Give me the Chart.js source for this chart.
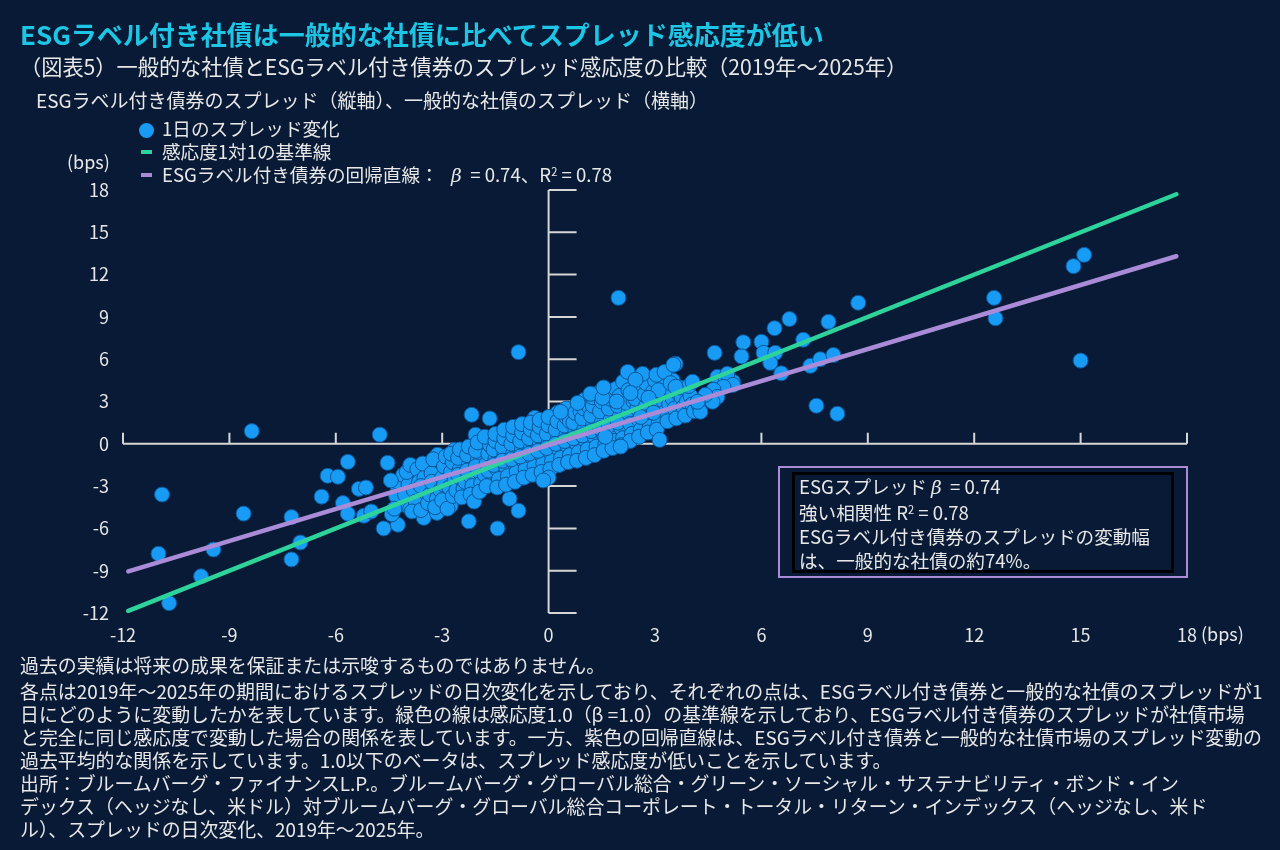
<!DOCTYPE html>
<html lang="ja">
<head>
<meta charset="utf-8">
<script src="https://cdn.jsdelivr.net/npm/chart.js@4.4.1/dist/chart.umd.min.js"></script>
<style>
html,body{margin:0;padding:0;width:1280px;height:850px;overflow:hidden;background:#081a35;}
body{position:relative;font-family:"Noto Sans CJK JP","Noto Sans",sans-serif;color:#e8e8e8;}
#c{position:absolute;left:0;top:0;}
.t{position:absolute;white-space:nowrap;line-height:1;}
#title{left:20px;top:21px;font-size:26px;font-weight:bold;color:#1ec6e6;}
#sub{left:20px;top:55px;font-size:21.2px;}
#axdesc{left:36px;top:90px;font-size:19px;}
#legend{position:absolute;left:0;top:0;}
.lg{position:absolute;white-space:nowrap;font-size:18.6px;line-height:1;left:162px;}
.dot{position:absolute;left:139px;width:15px;height:15px;border-radius:50%;background:#179bf5;}
.dash{position:absolute;left:141px;width:11px;height:4px;}
#ybps{left:67px;top:152px;font-size:18px;}
#xbps{left:1201px;top:624px;font-size:18px;}
#outer{position:absolute;left:778px;top:466px;width:410px;height:112px;border:2px solid #a98bd8;box-sizing:border-box;}
#inner{position:absolute;left:792px;top:472px;width:382px;height:101px;border:3px solid #000;box-sizing:border-box;}
#note{position:absolute;left:799px;top:474px;font-size:18.6px;line-height:24px;white-space:nowrap;}
#foot{position:absolute;left:20px;top:653px;font-size:18.9px;line-height:23px;white-space:nowrap;}
#foot .first{display:block;margin-bottom:3px;}
i{font-family:"DejaVu Serif",serif;}
sup{font-size:0.6em;vertical-align:0.55em;line-height:0;}
</style>
</head>
<body>
<canvas id="c" width="1280" height="850"></canvas>
<div class="t" id="title">ESGラベル付き社債は一般的な社債に比べてスプレッド感応度が低い</div>
<div class="t" id="sub">（図表5）一般的な社債とESGラベル付き債券のスプレッド感応度の比較（2019年～2025年）</div>
<div class="t" id="axdesc">ESGラベル付き債券のスプレッド（縦軸）、一般的な社債のスプレッド（横軸）</div>
<div id="legend">
  <div class="dot" style="top:123px"></div>
  <div class="lg" style="top:119px">1日のスプレッド変化</div>
  <div class="dash" style="top:150px;background:#2ed39c"></div>
  <div class="lg" style="top:142px">感応度1対1の基準線</div>
  <div class="dash" style="top:173px;background:#a98bd8"></div>
  <div class="lg" style="top:165px">ESGラベル付き債券の回帰直線：&nbsp;&nbsp;&nbsp;<i>β</i>&nbsp;&nbsp;=&nbsp;0.74、R<sup>2</sup>&nbsp;=&nbsp;0.78</div>
</div>
<div class="t" id="ybps">(bps)</div>
<div class="t" id="xbps">(bps)</div>
<div id="outer"></div>
<div id="inner"></div>
<div id="note">ESGスプレッド&nbsp;<i>β</i>&nbsp;&nbsp;= 0.74<br>強い相関性 R<sup>2</sup> = 0.78<br>ESGラベル付き債券のスプレッドの変動幅<br>は、一般的な社債の約74%。</div>
<div id="foot"><span class="first">過去の実績は将来の成果を保証または示唆するものではありません。</span>各点は2019年～2025年の期間におけるスプレッドの日次変化を示しており、それぞれの点は、ESGラベル付き債券と一般的な社債のスプレッドが1<br>日にどのように変動したかを表しています。緑色の線は感応度1.0（β =1.0）の基準線を示しており、ESGラベル付き債券のスプレッドが社債市場<br>と完全に同じ感応度で変動した場合の関係を表しています。一方、紫色の回帰直線は、ESGラベル付き債券と一般的な社債市場のスプレッド変動の<br>過去平均的な関係を示しています。1.0以下のベータは、スプレッド感応度が低いことを示しています。<br>出所：ブルームバーグ・ファイナンスL.P.。ブルームバーグ・グローバル総合・グリーン・ソーシャル・サステナビリティ・ボンド・イン<br>デックス（ヘッジなし、米ドル）対ブルームバーグ・グローバル総合コーポレート・トータル・リターン・インデックス（ヘッジなし、米ド<br>ル）、スプレッドの日次変化、2019年～2025年。</div>
<script>
// Axis ticks (bps)
const xTickValues = [-12, -9, -6, -3, 0, 3, 6, 9, 12, 15, 18];
const yTickValues = [-12, -9, -6, -3, 0, 3, 6, 9, 12, 15, 18];

// Reference lines (endpoints)
const baselineX = [-11.85, 17.7];
const baselineY = [-11.85, 17.7];
const regressionX = [-11.85, 17.7];
const regressionY = [-9.05, 13.3];

// Daily spread changes [general corporate (x), ESG-labelled (y)]
const outlierChanges = [
  [-10.9,-3.6],[-8.37,0.9],[-11.0,-7.8],[-10.7,-11.3],[-9.8,-9.4],[-9.45,-7.5],[-8.6,-4.95],
  [-7.25,-5.2],[-7.0,-7.0],[-7.25,-8.2],[-6.4,-3.75],[-4.76,0.65],[-6.23,-2.27],[-5.94,-2.34],
  [-5.66,-1.28],[-4.54,-1.35],[-5.8,-4.2],[-5.66,-4.96],[-5.35,-3.2],[-5.15,-3.1],[-5.21,-5.1],
  [-5.0,-4.8],[-4.65,-6.0],[-4.25,-5.74],[-4.42,-5.0],[-2.25,-5.5],[-1.44,-6.0],[-1.1,-3.9],
  [-0.85,-4.75],[-2.17,2.06],[-1.66,1.8],[-2.06,0.64],[-0.85,6.5],[1.97,10.35],[-0.39,1.84],[0.25,2.2],
  [-3.75,-2.2],[-3.6,-2.3],[-4.03,-2.5],[-4.17,-3.97],[-3.89,-4.4],[-3.52,-5.25],[-3.15,-4.9],
  [-2.93,-3.9],[-2.76,-4.4],[-3.13,-0.78],[-2.65,-0.43]
];
const rightChanges = [
  [15.1,13.4],[14.8,12.6],[12.56,10.35],[12.6,8.9],[15.0,5.9],[8.73,10.0],[7.89,8.65],[6.79,8.85],
  [6.37,8.2],[5.49,7.2],[6.0,7.23],[4.68,6.45],[5.44,6.2],[6.06,6.45],[6.39,6.45],[6.25,5.74],
  [6.56,5.0],[7.18,7.38],[7.38,5.53],[7.66,6.0],[8.03,6.3],[7.55,2.7],[8.14,2.13],[3.13,0.28],
  [3.58,5.67],[2.23,5.1],[2.65,4.96],[3.04,4.9],[3.27,5.1],[2.45,4.54],[4.06,4.4],[4.76,4.75],
  [4.99,4.68],[5.2,4.4],[5.04,4.96],[5.2,4.18],[4.93,4.04],[4.65,3.83],[4.42,3.33],[4.23,2.77],
  [4.28,2.27],[4.76,3.33],[4.62,2.98],[4.42,3.47],[4.2,2.98],[3.1,3.8],[3.44,4.3],[3.58,4.04],
  [1.18,3.55],[1.52,3.26],[2.31,3.6],[2.82,3.26],[0.82,2.9],[1.92,3.0],[2.6,1.9],[2.96,2.2],
  [2.03,-0.2],[1.6,0.5],[3.52,5.6],[1.55,4.0],[0.34,2.27]
];
const clusterChanges = [
  [-4.25,-3.1],[-4.15,-4.3],[-4.1,-2.2],[-4.3,-3.7],[-4.45,-2.6],[-4.35,-4.6],
  [-3.95,-2.9],[-4.05,-3.6],[-3.9,-4.6],[-4.0,-2.0],[-3.9,-1.5],
  [-3.8,-3.3],[-3.7,-1.8],[-3.75,-4.1],[-3.65,-2.7],[-3.85,-4.8],[-3.6,-4.7],
  [-3.5,-2.4],[-3.45,-3.5],[-3.55,-1.4],[-3.4,-4.2],[-3.6,-3.0],[-3.35,-3.6],
  [-3.3,-2.1],[-3.2,-3.1],[-3.25,-1.1],[-3.15,-3.9],[-3.3,-2.7],[-3.2,-4.5],
  [-3.0,-2.4],[-2.95,-1.6],[-3.05,-3.3],[-2.9,-0.9],[-3.0,-4.0],[-2.95,-2.9],[-2.85,-4.6],
  [-2.75,-2.0],[-2.7,-1.3],[-2.8,-3.1],[-2.65,-2.6],[-2.75,-0.7],[-2.7,-3.7],[-2.6,-3.3],
  [-2.5,-1.8],[-2.45,-2.5],[-2.55,-1.0],[-2.4,-3.2],[-2.5,-0.4],[-2.45,-3.8],[-2.55,-2.2],[-2.35,-2.7],
  [-2.25,-1.5],[-2.2,-2.3],[-2.3,-0.8],[-2.15,-3.0],[-2.25,-0.2],[-2.2,-3.6],[-2.3,-1.9],[-2.1,-4.1],
  [-2.0,-1.2],[-1.95,-2.0],[-2.05,-0.5],[-1.9,-2.8],[-2.0,0.1],[-1.95,-3.4],[-2.05,-1.6],
  [-1.75,-1.4],[-1.7,-0.7],[-1.8,-2.2],[-1.65,-0.1],[-1.75,-3.0],[-1.7,-1.9],[-1.8,0.5],
  [-1.5,-1.1],[-1.45,-1.8],[-1.55,-0.4],[-1.4,-2.5],[-1.5,0.2],[-1.45,-3.1],[-1.55,-1.5],[-1.5,0.7],
  [-1.25,-0.8],[-1.2,-1.6],[-1.3,-0.2],[-1.15,-2.3],[-1.25,0.4],[-1.2,-2.9],[-1.3,-1.2],[-1.25,1.0],
  [-1.0,-0.7],[-0.95,-1.4],[-1.05,0.0],[-0.9,-2.0],[-1.0,0.6],[-0.95,-2.7],[-1.05,-1.1],[-1.0,1.2],
  [-0.75,-0.4],[-0.7,-1.2],[-0.8,0.2],[-0.65,-1.8],[-0.75,0.8],[-0.7,-2.4],[-0.8,-0.9],[-0.75,1.4],
  [-0.5,-0.3],[-0.45,-1.0],[-0.55,0.4],[-0.4,-1.6],[-0.5,1.0],[-0.45,-2.2],[-0.55,-0.7],[-0.5,1.5],
  [-0.25,-0.1],[-0.2,-0.8],[-0.3,0.6],[-0.15,-1.4],[-0.25,1.2],[-0.2,-2.0],[-0.3,-0.5],[-0.25,1.7],
  [0.0,0.1],[0.05,-0.6],[-0.05,0.7],[0.1,-1.2],[0.0,1.3],[0.05,-1.8],[-0.05,-0.3],[0.0,1.9],[0.0,-2.4],[-0.15,-2.6],
  [0.25,0.3],[0.3,-0.4],[0.2,1.0],[0.35,-1.0],[0.25,1.6],[0.3,-1.5],[0.2,0.0],
  [0.5,0.6],[0.55,-0.2],[0.45,1.3],[0.6,-0.8],[0.5,1.9],[0.55,-1.3],[0.45,0.2],[0.5,2.5],[0.6,1.6],
  [0.75,0.8],[0.8,0.0],[0.7,1.5],[0.85,-0.6],[0.75,2.2],[0.8,-1.2],[0.7,0.4],[0.9,2.3],
  [1.0,1.0],[1.05,0.2],[0.95,1.8],[1.1,-0.4],[1.0,2.5],[1.05,-1.0],[0.95,0.6],[1.0,3.1],[1.15,2.6],
  [1.25,1.3],[1.3,0.5],[1.2,2.0],[1.35,-0.2],[1.25,2.7],[1.3,-0.8],[1.2,0.9],[1.25,3.3],[1.4,3.6],
  [1.5,1.5],[1.55,0.7],[1.45,2.3],[1.6,0.0],[1.5,3.0],[1.55,-0.5],[1.45,1.1],
  [1.75,1.7],[1.8,0.9],[1.7,2.5],[1.85,0.2],[1.75,3.2],[1.8,-0.3],[1.7,1.3],[1.9,3.9],
  [2.0,1.9],[2.05,1.1],[1.95,2.7],[2.1,0.4],[2.0,3.4],[2.05,-0.1],[1.95,1.5],[2.1,4.4],
  [2.25,2.2],[2.3,1.4],[2.2,2.9],[2.35,0.7],[2.25,3.8],[2.3,0.2],[2.4,3.0],
  [2.5,2.5],[2.55,1.7],[2.45,3.2],[2.6,1.0],[2.5,4.1],[2.55,0.5],[2.7,2.4],
  [2.75,2.7],[2.8,1.9],[2.7,3.5],[2.85,1.2],[2.75,4.3],[2.8,0.8],
  [3.0,2.9],[3.05,2.1],[2.95,3.7],[3.1,1.4],[3.0,4.5],[3.05,1.0],[3.15,3.4],
  [3.25,3.0],[3.3,2.3],[3.2,3.8],[3.35,1.6],[3.25,4.4],[3.4,2.8],
  [3.5,3.2],[3.55,2.5],[3.45,3.9],[3.6,1.8],[3.5,4.5],[3.65,3.6],
  [3.75,3.3],[3.8,2.6],[3.7,4.0],[3.85,2.0],[3.9,3.0],
  [4.0,3.4],[4.05,2.8],[3.95,4.1],[4.1,2.3]
];

const FONT = '"Noto Sans CJK JP", "Noto Sans", sans-serif';
const toXY = arr => arr.map(([x, y]) => ({x, y}));
const pairXY = (xs, ys) => xs.map((x, i) => ({x, y: ys[i]}));

const crossAxes = {
  id: 'crossAxes',
  beforeDatasetsDraw(chart) {
    const {ctx, scales: {x, y}} = chart;
    const x0 = x.getPixelForValue(0), y0 = y.getPixelForValue(0);
    ctx.save();
    ctx.strokeStyle = '#d6d6d6';
    ctx.lineWidth = 2;
    ctx.beginPath();
    ctx.moveTo(x.getPixelForValue(xTickValues[0]), y0);
    ctx.lineTo(x.getPixelForValue(xTickValues[xTickValues.length - 1]), y0);
    ctx.moveTo(x0, y.getPixelForValue(yTickValues[0]));
    ctx.lineTo(x0, y.getPixelForValue(yTickValues[yTickValues.length - 1]));
    xTickValues.forEach(v => { if (v !== 0) { const p = x.getPixelForValue(v); ctx.moveTo(p, y0); ctx.lineTo(p, y0 - 11); } });
    yTickValues.forEach(v => { if (v !== 0) { const p = y.getPixelForValue(v); ctx.moveTo(x0, p); ctx.lineTo(x0 + 28, p); } });
    ctx.stroke();
    ctx.restore();
  }
};

new Chart(document.getElementById('c'), {
  type: 'scatter',
  data: {
    datasets: [
      { label: 'ESGラベル付き債券の回帰直線', data: pairXY(regressionX, regressionY), showLine: true,
        borderColor: '#a98bd8', borderWidth: 4.5, pointRadius: 0, borderCapStyle: 'round', order: 0 },
      { label: '感応度1対1の基準線', data: pairXY(baselineX, baselineY), showLine: true,
        borderColor: '#2ed39c', borderWidth: 4.5, pointRadius: 0, borderCapStyle: 'round', order: 1 },
      { label: '1日のスプレッド変化', data: toXY([...outlierChanges, ...clusterChanges, ...rightChanges]),
        pointRadius: 7.5, backgroundColor: '#179bf5', borderColor: '#0c5596', borderWidth: 1, order: 2 }
    ]
  },
  options: {
    responsive: false, animation: false, devicePixelRatio: 1,
    layout: { padding: { top: 190, right: 93, left: 0, bottom: 0 } },
    plugins: { legend: { display: false }, tooltip: { enabled: false } },
    scales: {
      x: {
        type: 'linear', min: -12, max: 18,
        grid: { display: false, drawTicks: false }, border: { display: false },
        ticks: { color: '#e6e6e6', font: { family: FONT, size: 18 }, padding: 11, autoSkip: false, maxRotation: 0 },
        afterBuildTicks: s => { s.ticks = xTickValues.map(v => ({value: v})); },
        afterFit: s => { s.height = 237; }
      },
      y: {
        type: 'linear', min: -12, max: 18,
        grid: { display: false, drawTicks: false }, border: { display: false },
        ticks: { color: '#e6e6e6', font: { family: FONT, size: 18 }, padding: 14, autoSkip: false },
        afterBuildTicks: s => { s.ticks = yTickValues.map(v => ({value: v})); },
        afterFit: s => { s.width = 123; }
      }
    }
  },
  plugins: [crossAxes]
});
</script>
</body>
</html>
